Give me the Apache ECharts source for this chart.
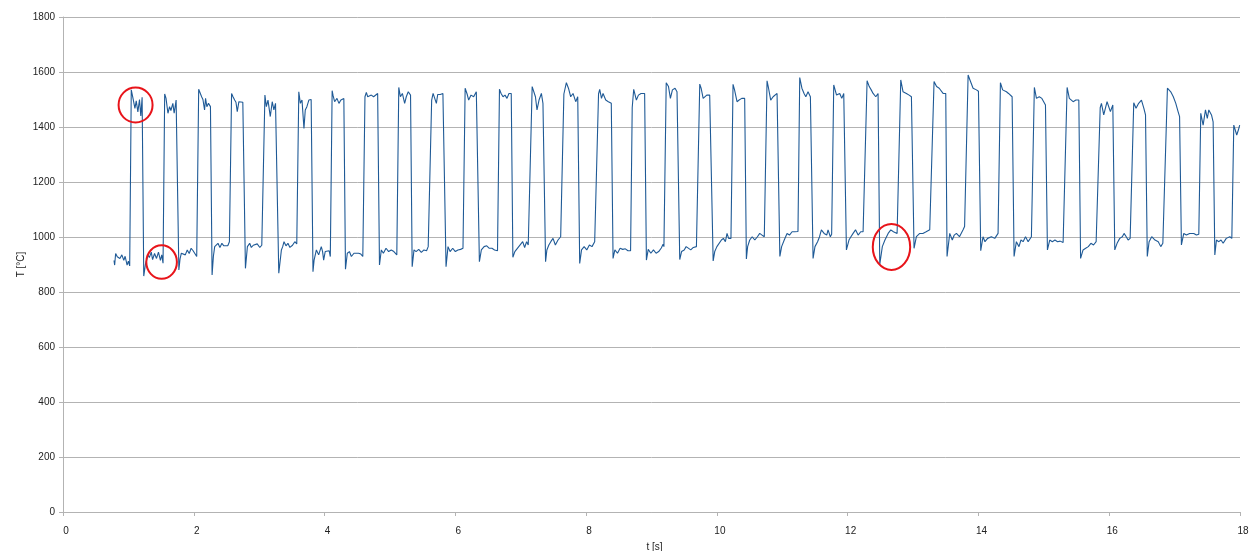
<!DOCTYPE html>
<html><head><meta charset="utf-8">
<script src="https://cdn.jsdelivr.net/npm/echarts@6/dist/echarts.min.js"></script>
<style>html,body{margin:0;padding:0;background:#fff}#c{width:1257px;height:551px}</style>
</head><body><div id="c"></div>
<script>
// time [s]
const timeS = [
0.78,0.79,0.805,0.83,0.85,0.87,0.90,0.93,0.95,0.98,1.00,1.02,
1.044,1.07,1.10,1.12,1.145,1.17,1.19,1.21,
1.235,1.26,1.30,1.32,1.35,1.37,1.40,1.43,1.46,1.49,1.51,1.53,
1.555,1.575,1.605,1.63,1.65,1.68,1.70,1.73,1.745,
1.772,1.79,1.81,1.84,1.87,1.90,1.93,1.96,1.99,2.02,2.045,
2.075,2.09,2.12,2.14,2.165,2.18,2.20,2.225,2.255,
2.28,2.30,2.32,2.345,2.37,2.40,2.43,2.46,2.49,2.52,2.545,
2.578,2.60,2.625,2.645,2.665,2.69,2.72,2.75,2.768,
2.79,2.82,2.855,2.88,2.91,2.94,2.97,3.01,3.04,3.06,
3.088,3.11,3.135,3.17,3.20,3.225,3.25,3.278,
3.30,3.34,3.36,3.38,3.41,3.44,3.47,3.51,3.545,3.575,
3.606,3.63,3.655,3.685,3.705,3.73,3.76,3.795,
3.823,3.84,3.875,3.91,3.95,3.97,3.986,4.01,4.04,4.07,4.088,
4.116,4.13,4.154,4.19,4.22,4.25,4.28,4.295,
4.32,4.348,4.38,4.41,4.45,4.48,4.52,4.555,4.585,
4.618,4.639,4.66,4.69,4.715,4.75,4.78,4.812,
4.84,4.868,4.90,4.94,4.98,5.02,5.06,5.105,
5.135,5.16,5.19,5.225,5.25,5.28,5.315,
5.34,5.368,5.40,5.44,5.48,5.52,5.56,5.585,5.608,
5.638,5.66,5.69,5.71,5.73,5.77,5.81,5.835,
5.858,5.888,5.92,5.96,6.00,6.04,6.08,6.117,
6.15,6.18,6.204,6.24,6.28,6.321,6.345,
6.368,6.398,6.44,6.48,6.52,6.56,6.60,6.627,6.645,
6.675,6.70,6.729,6.76,6.79,6.82,6.855,
6.88,6.91,6.94,6.97,7.00,7.03,7.06,7.09,7.115,7.145,
7.175,7.20,7.225,7.249,7.28,7.316,7.34,7.355,
7.38,7.40,7.43,7.46,7.494,7.53,7.57,7.611,7.632,
7.66,7.698,7.73,7.764,7.80,7.841,7.872,
7.902,7.93,7.97,8.01,8.05,8.09,8.131,8.158,
8.19,8.208,8.235,8.259,8.30,8.34,8.385,
8.412,8.44,8.48,8.52,8.56,8.60,8.64,8.667,8.68,
8.705,8.728,8.769,8.80,8.84,8.87,8.895,
8.922,8.95,8.99,9.03,9.07,9.11,9.15,9.177,9.19,
9.225,9.26,9.289,9.32,9.36,9.39,9.405,
9.432,9.46,9.50,9.53,9.56,9.60,9.64,9.687,9.70,
9.738,9.76,9.79,9.82,9.845,9.865,9.89,9.92,
9.943,9.967,10.00,10.03,10.069,10.10,10.13,10.155,10.18,10.215,
10.247,10.27,10.308,10.34,10.38,10.425,
10.451,10.47,10.502,10.54,10.58,10.62,10.655,10.69,10.725,
10.767,10.79,10.823,10.86,10.89,10.92,10.94,
10.963,10.99,11.03,11.073,11.11,11.15,11.19,11.216,11.24,
11.267,11.30,11.333,11.36,11.394,11.43,11.445,
11.471,11.50,11.54,11.57,11.598,11.64,11.68,11.70,11.735,11.755,
11.787,11.83,11.879,11.91,11.94,11.955,
11.981,12.02,12.05,12.083,12.12,12.16,12.20,12.236,12.262,
12.297,12.33,12.36,12.389,12.43,12.465,
12.491,12.53,12.57,12.619,12.66,12.70,12.73,12.756,12.77,
12.812,12.847,12.898,12.94,12.975,12.99,
13.015,13.051,13.102,13.15,13.20,13.255,13.282,
13.321,13.36,13.40,13.459,13.48,13.50,
13.52,13.561,13.60,13.63,13.663,13.71,13.765,13.788,
13.842,13.87,13.918,13.94,13.969,14.00,
14.035,14.07,14.10,14.14,14.17,14.198,14.25,14.30,
14.336,14.37,14.428,14.46,14.49,14.515,
14.545,14.58,14.62,14.65,14.683,14.72,14.76,14.81,
14.855,14.887,14.93,14.97,15.00,15.025,
15.055,15.09,15.13,15.17,15.21,15.25,15.295,15.32,
15.356,15.39,15.448,15.49,15.535,
15.562,15.60,15.64,15.68,15.72,15.76,15.80,15.83,
15.862,15.881,15.916,15.967,16.018,16.055,
16.085,16.12,16.161,16.20,16.227,16.26,16.289,16.32,16.345,
16.375,16.41,16.45,16.493,16.53,16.555,
16.582,16.61,16.65,16.70,16.75,16.788,16.82,16.85,
16.89,16.941,16.98,17.018,17.053,17.076,
17.104,17.14,17.18,17.23,17.293,17.334,17.37,
17.40,17.436,17.472,17.50,17.523,17.564,17.589,
17.615,17.64,17.676,17.71,17.742,17.79,17.844,17.875,
17.905,17.925,17.95,17.975,17.995
];
// temperature [°C]
const tempC = [
915,898,940,928,935,922,935,915,930,898,912,895,
1535,1505,1468,1495,1455,1500,1440,1508,
858,900,935,925,945,918,940,922,945,915,935,905,
1520,1505,1450,1474,1460,1486,1450,1498,1500,
880,920,941,948,935,953,940,959,950,955,929,
1537,1528,1510,1500,1462,1504,1474,1486,1474,
862,930,965,971,977,962,977,968,975,968,983,
1522,1510,1498,1490,1456,1492,1486,1490,1486,
886,965,977,962,970,965,975,962,970,977,
1516,1474,1498,1438,1492,1462,1486,1480,
868,953,965,983,968,977,962,970,983,975,
1528,1486,1498,1395,1462,1474,1498,1500,
874,916,953,935,965,947,916,947,941,950,929,
1532,1515,1492,1504,1486,1498,1504,1504,
883,941,947,929,941,935,941,938,929,
1510,1526,1510,1504,1516,1510,1516,1522,
898,953,941,959,947,953,947,935,
1544,1510,1522,1486,1510,1528,1516,
892,953,947,955,944,953,950,965,960,
1498,1522,1518,1486,1518,1518,1522,1522,
892,965,947,959,947,953,955,959,
1541,1520,1498,1516,1510,1528,1525,
910,953,965,968,959,959,953,947,950,
1537,1522,1510,1516,1504,1522,1522,
926,947,953,965,959,983,962,983,971,975,
1547,1541,1510,1462,1498,1522,1486,1486,
910,953,971,983,995,971,989,1001,995,
1520,1561,1541,1510,1522,1492,1510,
904,953,965,953,971,965,983,985,
1520,1537,1504,1522,1498,1492,1486,
922,953,941,959,955,957,950,947,950,
1470,1537,1498,1516,1522,1520,1522,
916,955,941,953,941,947,960,974,965,
1561,1547,1504,1535,1541,1528,1528,
918,947,953,965,971,953,962,965,968,
1556,1540,1504,1500,1516,1522,1516,1520,
913,947,965,971,989,995,983,1013,995,995,
1555,1535,1492,1498,1504,1504,
920,965,989,1001,989,1001,1013,1007,1001,
1568,1541,1498,1510,1515,1522,1520,
929,965,989,1013,1007,1019,1019,1026,1020,
1580,1541,1522,1510,1528,1510,1515,
922,965,983,1001,1026,1013,1007,1026,1001,1010,
1553,1516,1522,1504,1522,1515,
953,989,1001,1013,1026,1007,1019,1019,1022,
1568,1547,1535,1522,1510,1522,
900,965,989,1013,1026,1019,1026,1013,1020,
1571,1528,1522,1516,1510,1510,
959,1001,1013,1013,1019,1026,1019,
1565,1547,1541,1522,1528,1522,
929,1013,989,1007,1013,1001,1026,1038,
1589,1571,1541,1547,1535,1530,
950,1001,983,995,989,1001,995,1013,
1561,1535,1528,1522,1528,1510,
929,983,965,989,983,1001,983,1001,
1544,1504,1510,1504,1498,1480,
953,989,983,989,983,985,980,985,
1544,1504,1492,1498,1498,
922,953,959,965,977,971,983,983,
1470,1486,1444,1492,1456,1480,
953,977,995,1001,1013,1001,989,995,995,
1488,1468,1486,1498,1468,1444,
929,983,1001,989,983,965,977,983,
1541,1528,1510,1486,1456,1438,
971,1013,1007,1013,1013,1007,1010,
1450,1407,1462,1431,1462,1444,1419,
935,989,983,989,977,995,1001,995,
1407,1401,1371,1389,1407
];
const xTickLabels = ['0','2','4','6','8','10','12','14','16','18'];
const yTickLabels = ['0','200','400','600','800','1000','1200','1400','1600','1800'];
// highlighted spots (data coordinates: t [s], T [°C])
const markTimes = [1.11, 1.508, 12.67];
const markTemps = [1480, 909, 964];

const chart = echarts.init(document.getElementById('c'), null, {renderer: 'canvas'});
const font = '"Liberation Sans", Arial, sans-serif';
const seriesData = timeS.map((t, i) => [t, tempC[i]]);
chart.setOption({
  animation: false,
  backgroundColor: '#ffffff',
  grid: {left: 63, right: 17, top: 17, bottom: 39, containLabel: false, outerBoundsMode: 'none'},
  xAxis: {
    type: 'value', min: 0, max: 18, interval: 2,
    name: 't [s]', nameLocation: 'middle', nameGap: 30, nameMoveOverlap: false,
    nameTextStyle: {fontFamily: font, fontSize: 10, color: '#222', padding: [0, 0, 0, 6]},
    axisLine: {show: true, lineStyle: {color: '#b3b3b3', width: 1}},
    axisTick: {show: true, inside: false, length: 4, lineStyle: {color: '#b3b3b3'}},
    axisLabel: {fontFamily: font, fontSize: 10, color: '#222', margin: 14, padding: [0, 0, 0, 6],
      formatter: (v) => xTickLabels[Math.round(v / 2)] ?? ''},
    splitLine: {show: false}
  },
  yAxis: {
    type: 'value', min: 0, max: 1800, interval: 200,
    name: 'T [°C]', nameLocation: 'middle', nameGap: 37, nameMoveOverlap: false,
    nameTextStyle: {fontFamily: font, fontSize: 10, color: '#222'},
    axisLine: {show: true, lineStyle: {color: '#b3b3b3', width: 1}},
    axisTick: {show: true, inside: false, length: 4, lineStyle: {color: '#b3b3b3'}},
    axisLabel: {fontFamily: font, fontSize: 10, color: '#222', margin: 8,
      formatter: (v) => yTickLabels[Math.round(v / 200)] ?? ''},
    splitLine: {show: true, lineStyle: {color: '#b3b3b3', width: 1}}
  },
  series: [{
    type: 'line', data: seriesData, showSymbol: false, symbol: 'none',
    lineStyle: {color: '#1f5a96', width: 1.1}, smooth: false
  }]
});
const radii = [[17, 17.5], [15.3, 16.7], [18.7, 23]];
const graphics = markTimes.map((t, i) => {
  const p = chart.convertToPixel({gridIndex: 0}, [t, markTemps[i]]);
  return {type: 'ellipse', shape: {cx: p[0], cy: p[1], rx: radii[i][0], ry: radii[i][1]},
    style: {fill: 'none', stroke: '#e8141a', lineWidth: 2}, z: 100};
});
chart.setOption({graphic: graphics});
</script>
</body></html>
